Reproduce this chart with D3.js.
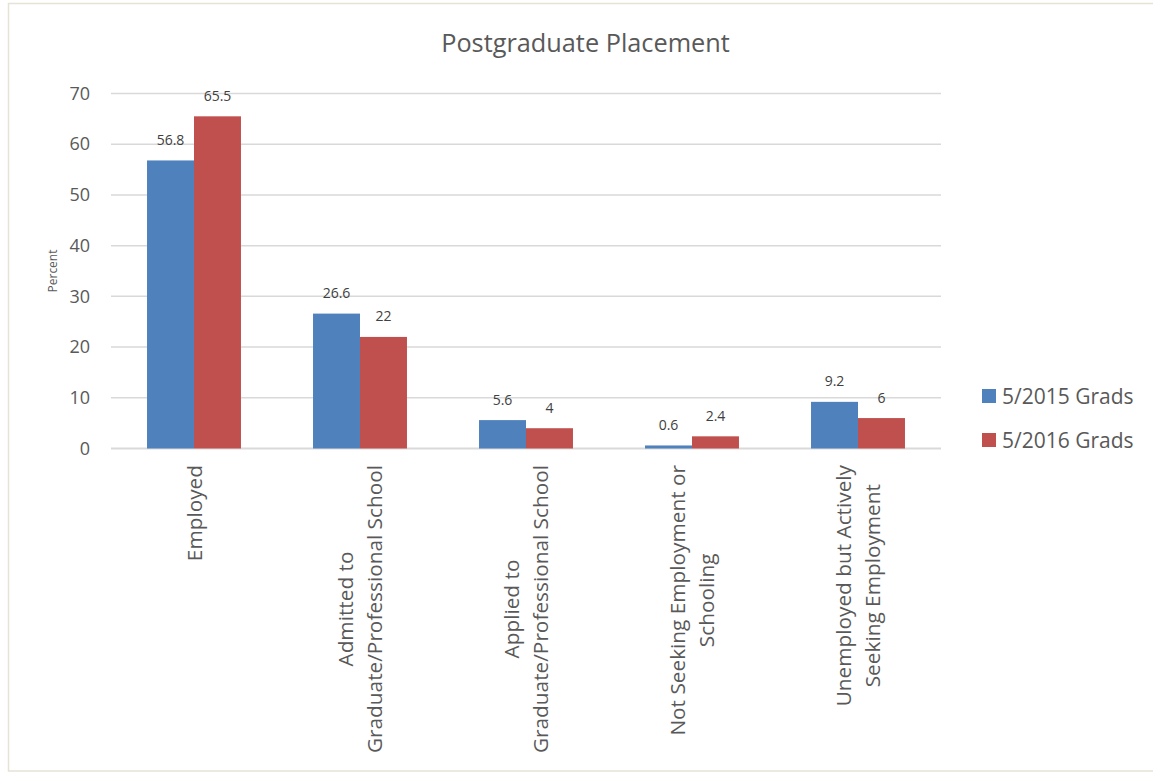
<!DOCTYPE html>
<html>
<head>
<meta charset="utf-8">
<script src="https://cdn.jsdelivr.net/npm/d3@7"></script>
<style>
  html, body { margin: 0; padding: 0; background: #ffffff; }
  svg { display: block; font-family: "Open Sans", "Noto Sans", sans-serif; }
</style>
</head>
<body>
<svg id="chart" width="1153" height="772"></svg>
<script>
// Postgraduate placement outcomes, percent of each graduating class
const categories = [
  ["Employed"],
  ["Admitted to", "Graduate/Professional School"],
  ["Applied to", "Graduate/Professional School"],
  ["Not Seeking Employment or", "Schooling"],
  ["Unemployed but Actively", "Seeking Employment"]
];
const seriesNames = ["5/2015 Grads", "5/2016 Grads"];
const grads2015 = [56.8, 26.6, 5.6, 0.6, 9.2];
const grads2016 = [65.5, 22, 4, 2.4, 6];
const yTicks = [0, 10, 20, 30, 40, 50, 60, 70];
const colors = ["#4F81BD", "#C0504D"];

const svg = d3.select("#chart");
const plot = { left: 111, right: 941, top: 93.5, bottom: 448.5 };

// chart area frame
svg.append("rect")
  .attr("x", 8.5).attr("y", 3.5)
  .attr("width", 1160).attr("height", 767.5)
  .attr("fill", "#ffffff")
  .attr("stroke", "#E6E2D6").attr("stroke-width", 1.5);

const catIdx = categories.map((d, i) => i);
const x0 = d3.scaleBand()
  .domain(catIdx)
  .range([plot.left, plot.right])
  .paddingInner(0.434)
  .paddingOuter(0.217);
const x1 = d3.scaleBand()
  .domain(seriesNames)
  .range([0, x0.bandwidth()]);
const y = d3.scaleLinear().domain([0, 70]).range([plot.bottom, plot.top]);

// gridlines
svg.append("g").selectAll("line")
  .data(yTicks)
  .join("line")
  .attr("x1", plot.left).attr("x2", plot.right)
  .attr("y1", d => y(d)).attr("y2", d => y(d))
  .attr("stroke", "#D9D9D9")
  .attr("stroke-width", d => d === 0 ? 2 : 1.5);

// y axis labels
const yAxis = svg.append("g")
  .attr("transform", `translate(${plot.left},0)`)
  .call(d3.axisLeft(y).tickValues(yTicks).tickSize(0).tickPadding(21));
yAxis.select(".domain").remove();
yAxis.selectAll("text")
  .attr("fill", "#595959")
  .style("font-family", "'Open Sans', sans-serif")
  .style("font-size", "18px");

// y axis title
svg.append("text")
  .attr("transform", `translate(57,${(plot.top + plot.bottom) / 2}) rotate(-90)`)
  .attr("text-anchor", "middle")
  .attr("fill", "#595959")
  .style("font-size", "12px")
  .text("Percent");

// bars
const series = [grads2015, grads2016];
const groups = svg.append("g").selectAll("g")
  .data(catIdx)
  .join("g")
  .attr("transform", i => `translate(${x0(i)},0)`);

groups.selectAll("rect")
  .data(i => seriesNames.map((s, k) => ({ s, k, v: series[k][i] })))
  .join("rect")
  .attr("x", d => x1(d.s))
  .attr("width", x1.bandwidth())
  .attr("y", d => y(d.v))
  .attr("height", d => y(0) - y(d.v))
  .attr("fill", d => colors[d.k]);

// value labels
groups.selectAll("text")
  .data(i => seriesNames.map((s, k) => ({ s, k, v: series[k][i] })))
  .join("text")
  .attr("x", d => x1(d.s) + x1.bandwidth() / 2)
  .attr("y", d => y(d.v) - 15.5)
  .attr("text-anchor", "middle")
  .attr("fill", "#404040")
  .style("font-size", "14px")
  .text(d => d.v);

// category labels, rotated, lines centred on each other, block top at fixed y
const labelTop = 465;
const lineGap = 28.5;
const catG = svg.append("g");
categories.forEach((lines, i) => {
  const cx = x0(i) + x0.bandwidth() / 2;
  const g = catG.append("g").attr("transform", `translate(${cx},${labelTop}) rotate(-90)`);
  const texts = lines.map((t, j) => g.append("text")
    .attr("text-anchor", "middle")
    .attr("dy", "0.36em")
    .attr("fill", "#595959")
    .style("font-size", "20.8px")
    .attr("y", (j - (lines.length - 1) / 2) * lineGap)
    .text(t));
  const maxW = d3.max(texts, t => t.node().getComputedTextLength());
  texts.forEach(t => t.attr("x", -maxW / 2));
});

// title
svg.append("text")
  .attr("x", 585.5).attr("y", 52)
  .attr("text-anchor", "middle")
  .attr("fill", "#595959")
  .style("font-size", "25.3px")
  .text("Postgraduate Placement");

// legend
const legend = svg.append("g").selectAll("g")
  .data(seriesNames)
  .join("g")
  .attr("transform", (d, k) => `translate(982,${396 + k * 44})`);
legend.append("rect")
  .attr("x", 0).attr("y", -7)
  .attr("width", 14).attr("height", 14)
  .attr("fill", (d, k) => colors[k]);
legend.append("text")
  .attr("x", 20).attr("dy", "0.36em")
  .attr("fill", "#595959")
  .style("font-size", "21px")
  .text(d => d);
</script>
</body>
</html>
